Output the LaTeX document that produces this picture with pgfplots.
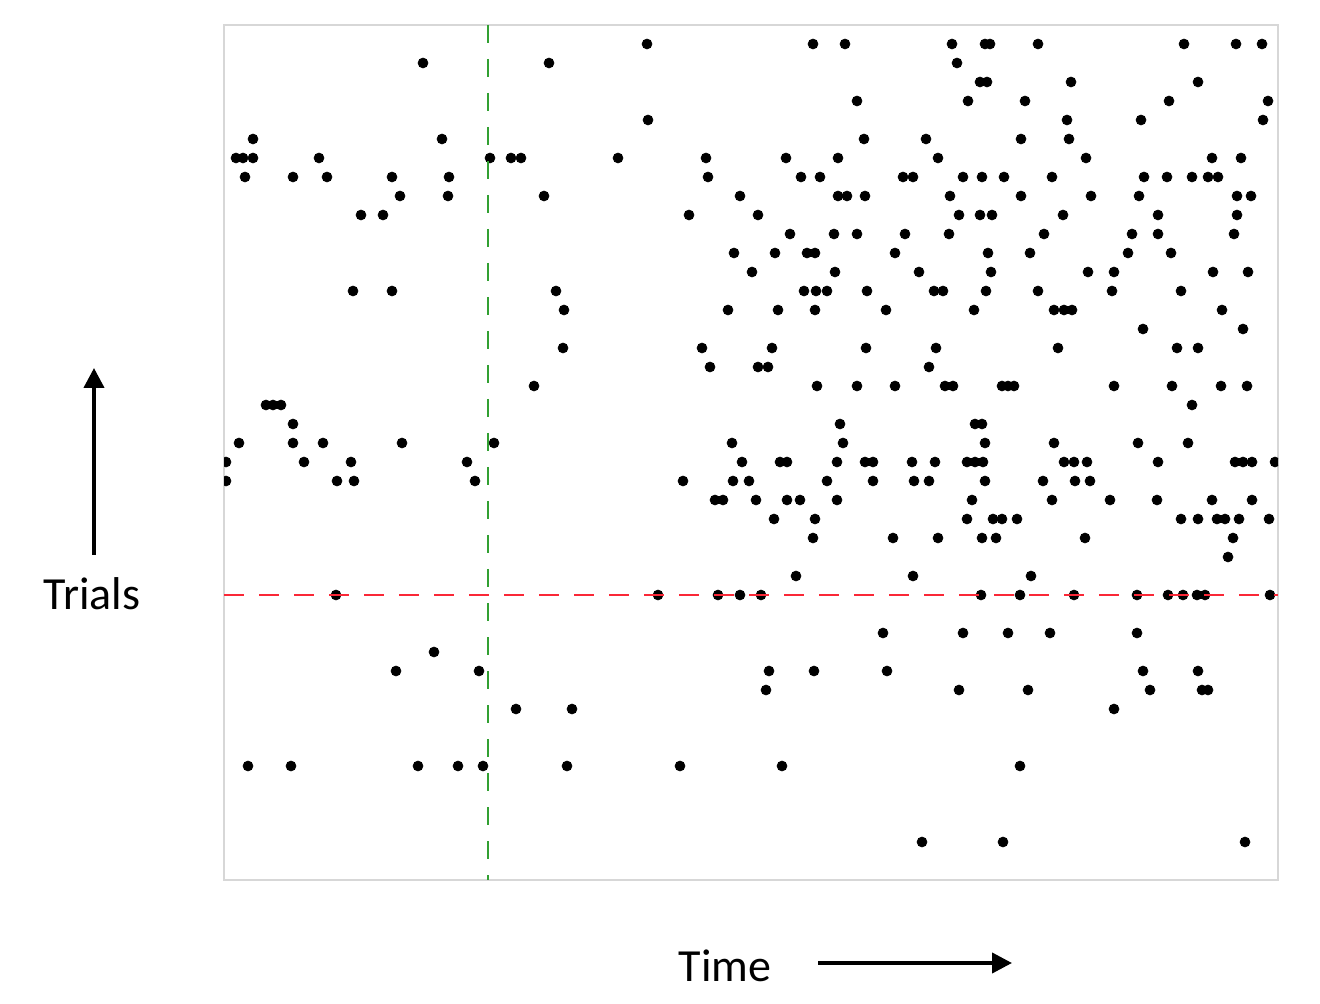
\documentclass[border=0pt]{standalone}
\usepackage{fontspec}
\setmainfont{Carlito}
\usepackage{pgfplots}
\pgfplotsset{compat=1.18}
\usetikzlibrary{arrows.meta}
\definecolor{rasgreen}{RGB}{50,160,50}
\definecolor{rasred}{RGB}{250,40,55}
\definecolor{framegray}{RGB}{215,215,215}
\begin{document}
\begin{tikzpicture}
\useasboundingbox (-112pt,-62pt) rectangle (548pt,440pt);
\begin{axis}[
  at={(0pt,0pt)}, anchor=south west,
  scale only axis,
  width=527pt, height=427.5pt,
  xmin=224, xmax=1278, ymin=25, ymax=880,
  y dir=reverse,
  ticks=none,
  axis line style={framegray, line width=1pt},
  clip marker paths=true,
]
\addplot[only marks, mark=*, mark size=2.45pt, black, mark options={draw=black, fill=black}] table {
x y
647 44
813 44
845 44
952 44
985 44
990 44
1038 44
1184 44
1236 44
1262 44
423 63
549 63
957 63
980 82
987 82
1071 82
1198 82
857 101
968 101
1025 101
1169 101
1268 101
648 120
1067 120
1141 120
1263 120
253 139
442 139
864 139
926 139
1021 139
1069 139
236 158
243 158
253 158
319 158
490 158
511 158
521 158
618 158
706 158
786 158
838 158
938 158
1086 158
1212 158
1241 158
245 177
293 177
327 177
392 177
449 177
708 177
801 177
820 177
903 177
913 177
963 177
982 177
1004 177
1052 177
1144 177
1167 177
1192 177
1208 177
1218 177
400 196
448 196
544 196
740 196
838 196
847 196
865 196
950 196
1021 196
1091 196
1139 196
1237 196
1251 196
361 215
383 215
689 215
758 215
959 215
980 215
992 215
1063 215
1158 215
1237 215
790 234
834 234
857 234
905 234
949 234
1044 234
1132 234
1158 234
1234 234
734 253
775 253
807 253
815 253
895 253
988 253
1030 253
1128 253
1171 253
752 272
835 272
919 272
991 272
1088 272
1114 272
1213 272
1248 272
353 291
392 291
556 291
804 291
816 291
827 291
867 291
934 291
943 291
986 291
1038 291
1112 291
1181 291
564 310
728 310
778 310
815 310
886 310
974 310
1054 310
1064 310
1072 310
1222 310
1143 329
1243 329
563 348
702 348
772 348
866 348
936 348
1058 348
1177 348
1198 348
710 367
758 367
768 367
929 367
534 386
817 386
857 386
895 386
945 386
953 386
1002 386
1008 386
1014 386
1114 386
1172 386
1221 386
1247 386
266 405
273 405
281 405
1192 405
293 424
840 424
975 424
982 424
239 443
293 443
323 443
402 443
494 443
732 443
843 443
985 443
1054 443
1138 443
1188 443
226 462
304 462
351 462
467 462
742 462
780 462
787 462
837 462
865 462
873 462
912 462
935 462
967 462
975 462
983 462
1064 462
1074 462
1087 462
1158 462
1235 462
1243 462
1252 462
1275 462
226 481
337 481
354 481
475 481
683 481
733 481
749 481
827 481
873 481
914 481
929 481
985 481
1043 481
1075 481
1090 481
715 500
723 500
756 500
787 500
800 500
837 500
972 500
1052 500
1110 500
1157 500
1212 500
1252 500
774 519
815 519
967 519
993 519
1002 519
1017 519
1181 519
1198 519
1217 519
1225 519
1239 519
1269 519
813 538
893 538
938 538
982 538
996 538
1085 538
1233 538
1228 557
796 576
913 576
1031 576
336 595
658 595
718 595
740 595
761 595
981 595
1020 595
1074 595
1137 595
1168 595
1183 595
1197 595
1205 595
1270 595
883 633
963 633
1008 633
1050 633
1137 633
434 652
396 671
479 671
769 671
814 671
887 671
1143 671
1198 671
766 690
959 690
1028 690
1150 690
1202 690
1208 690
516 709
572 709
1114 709
248 766
291 766
418 766
458 766
483 766
567 766
680 766
782 766
1020 766
922 842
1003 842
1245 842
};
\draw[rasgreen, line width=1.1pt, dash pattern=on 9pt off 8pt] (axis cs:488,25) -- (axis cs:488,880);
\draw[rasred, line width=1.1pt, dash pattern=on 10pt off 7.5pt] (axis cs:224,595) -- (axis cs:1278,595);
\end{axis}
\node[font=\fontsize{23}{27}\selectfont, inner sep=0pt] at (-66pt,143pt) {Trials};
\draw[line width=2pt, -{Triangle[length=10pt, width=10pt]}] (-65pt,162.5pt) -- (-65pt,256pt);
\node[font=\fontsize{23}{27}\selectfont, inner sep=0pt] at (250.5pt,-43pt) {Time};
\draw[line width=2pt, -{Triangle[length=10pt, width=10pt]}] (297pt,-41.5pt) -- (394pt,-41.5pt);
\end{tikzpicture}
\end{document}
